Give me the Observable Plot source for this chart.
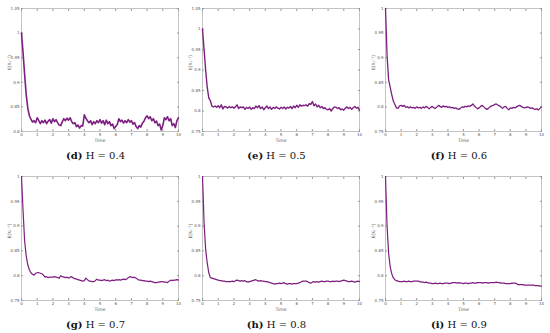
<!DOCTYPE html>
<html>
<head>
<meta charset="utf-8">
<script src="https://cdn.jsdelivr.net/npm/d3@7"></script>
<script src="https://cdn.jsdelivr.net/npm/@observablehq/plot@0.6"></script>
<style>
  html, body { margin: 0; padding: 0; background: #fff; }
  #root { position: relative; width: 550px; height: 333px; overflow: hidden; }
  .panel { position: absolute; }
  .cap { position: absolute; font-family: "DejaVu Serif", "Liberation Serif", serif; font-size: 10px; color: #111; white-space: nowrap; transform: translate(-50%, -50%); }
  .cap b { font-weight: bold; }
</style>
</head>
<body>
<div id="root"></div>
<script>
// ---- data ----
const time = [0,0.1,0.2,0.3,0.4,0.5,0.6,0.7,0.8,0.9,1,1.1,1.2,1.3,1.4,1.5,1.6,1.7,1.8,1.9,2,2.1,2.2,2.3,2.4,2.5,2.6,2.7,2.8,2.9,3,3.1,3.2,3.3,3.4,3.5,3.6,3.7,3.8,3.9,4,4.1,4.2,4.3,4.4,4.5,4.6,4.7,4.8,4.9,5,5.1,5.2,5.3,5.4,5.5,5.6,5.7,5.8,5.9,6,6.1,6.2,6.3,6.4,6.5,6.6,6.7,6.8,6.9,7,7.1,7.2,7.3,7.4,7.5,7.6,7.7,7.8,7.9,8,8.1,8.2,8.3,8.4,8.5,8.6,8.7,8.8,8.9,9,9.1,9.2,9.3,9.4,9.5,9.6,9.7,9.8,9.9,10];

const seriesH04 = [1.000,0.960,0.915,0.875,0.848,0.832,0.825,0.819,0.822,0.818,
  0.828,0.822,0.816,0.822,0.818,0.823,0.816,0.821,0.824,0.817,
  0.826,0.820,0.824,0.818,0.813,0.812,0.820,0.826,0.822,0.827,
  0.823,0.828,0.820,0.816,0.818,0.810,0.813,0.807,0.812,0.811,
  0.834,0.827,0.822,0.818,0.822,0.814,0.820,0.816,0.822,0.818,
  0.824,0.817,0.822,0.814,0.823,0.816,0.820,0.812,0.815,0.806,
  0.810,0.814,0.826,0.820,0.823,0.817,0.822,0.818,0.824,0.819,
  0.822,0.815,0.818,0.810,0.806,0.812,0.809,0.817,0.821,0.828,
  0.832,0.826,0.830,0.822,0.826,0.818,0.821,0.812,0.815,0.803,
  0.812,0.828,0.824,0.830,0.822,0.826,0.812,0.816,0.808,0.822,
  0.828];

const seriesH05 = [1.000,0.950,0.900,0.858,0.832,0.825,0.812,0.810,0.812,0.809,
  0.813,0.808,0.815,0.805,0.811,0.810,0.807,0.811,0.808,0.810,
  0.807,0.810,0.815,0.806,0.810,0.808,0.810,0.804,0.809,0.806,
  0.810,0.804,0.808,0.806,0.812,0.808,0.813,0.806,0.810,0.803,
  0.808,0.812,0.806,0.810,0.804,0.809,0.806,0.810,0.807,0.805,
  0.809,0.806,0.810,0.805,0.809,0.807,0.811,0.806,0.812,0.808,
  0.814,0.809,0.815,0.812,0.814,0.813,0.815,0.812,0.818,0.816,
  0.823,0.813,0.817,0.810,0.814,0.808,0.811,0.806,0.808,0.804,
  0.803,0.806,0.800,0.806,0.810,0.809,0.806,0.808,0.803,0.805,
  0.802,0.807,0.810,0.806,0.809,0.804,0.808,0.811,0.807,0.809,
  0.802];

const seriesH06 = [1.000,0.905,0.855,0.840,0.825,0.812,0.805,0.798,0.797,0.802,
  0.803,0.801,0.803,0.799,0.800,0.798,0.800,0.798,0.799,0.797,
  0.800,0.798,0.799,0.797,0.800,0.798,0.801,0.799,0.796,0.799,
  0.801,0.798,0.797,0.800,0.803,0.801,0.799,0.802,0.800,0.801,
  0.799,0.800,0.798,0.799,0.797,0.798,0.796,0.795,0.797,0.800,
  0.799,0.801,0.800,0.802,0.801,0.803,0.806,0.802,0.799,0.796,
  0.798,0.801,0.803,0.800,0.797,0.795,0.797,0.800,0.802,0.803,
  0.805,0.806,0.804,0.802,0.800,0.797,0.800,0.801,0.797,0.794,
  0.798,0.797,0.799,0.798,0.800,0.802,0.803,0.801,0.799,0.798,
  0.799,0.800,0.799,0.797,0.798,0.796,0.795,0.796,0.794,0.797,
  0.800];

const seriesH07 = [1.000,0.930,0.870,0.840,0.822,0.812,0.806,0.803,0.801,0.805,
  0.806,0.806,0.805,0.804,0.801,0.797,0.798,0.796,0.797,0.797,
  0.797,0.798,0.797,0.796,0.795,0.800,0.798,0.797,0.796,0.797,
  0.795,0.797,0.798,0.795,0.794,0.793,0.792,0.791,0.790,0.789,
  0.790,0.795,0.792,0.789,0.789,0.788,0.788,0.790,0.793,0.791,
  0.791,0.790,0.791,0.792,0.790,0.791,0.789,0.790,0.791,0.790,
  0.792,0.791,0.792,0.791,0.792,0.793,0.792,0.793,0.796,0.798,
  0.797,0.796,0.797,0.795,0.793,0.791,0.791,0.790,0.790,0.789,
  0.789,0.788,0.789,0.788,0.787,0.786,0.786,0.787,0.787,0.788,
  0.788,0.787,0.787,0.786,0.789,0.791,0.790,0.791,0.791,0.792,
  0.791];

const seriesH08 = [1.000,0.907,0.853,0.826,0.806,0.796,0.795,0.794,0.793,0.792,
  0.791,0.790,0.790,0.789,0.789,0.788,0.788,0.788,0.788,0.789,
  0.788,0.790,0.791,0.790,0.789,0.790,0.789,0.790,0.788,0.787,
  0.788,0.789,0.790,0.791,0.792,0.790,0.789,0.790,0.789,0.789,
  0.788,0.788,0.787,0.786,0.785,0.784,0.783,0.784,0.784,0.785,
  0.784,0.785,0.786,0.784,0.783,0.784,0.784,0.783,0.784,0.784,
  0.784,0.785,0.786,0.788,0.789,0.789,0.789,0.788,0.786,0.785,
  0.787,0.788,0.787,0.788,0.787,0.788,0.789,0.788,0.788,0.789,
  0.789,0.788,0.788,0.789,0.788,0.789,0.789,0.788,0.789,0.790,
  0.791,0.790,0.789,0.788,0.788,0.789,0.788,0.787,0.788,0.789,
  0.788];

const seriesH09 = [1.000,0.900,0.845,0.818,0.804,0.796,0.792,0.790,0.789,0.788,
  0.788,0.788,0.789,0.788,0.788,0.789,0.788,0.788,0.789,0.789,
  0.789,0.789,0.788,0.787,0.787,0.786,0.787,0.786,0.785,0.785,
  0.784,0.784,0.785,0.784,0.784,0.785,0.784,0.784,0.785,0.785,
  0.785,0.784,0.785,0.786,0.786,0.786,0.785,0.786,0.785,0.785,
  0.784,0.785,0.785,0.784,0.785,0.785,0.786,0.785,0.785,0.786,
  0.786,0.786,0.785,0.786,0.786,0.786,0.785,0.786,0.786,0.786,
  0.786,0.787,0.786,0.786,0.785,0.785,0.785,0.784,0.784,0.784,
  0.784,0.785,0.785,0.785,0.784,0.782,0.782,0.782,0.782,0.781,
  0.781,0.781,0.781,0.781,0.781,0.781,0.780,0.780,0.780,0.779,
  0.779];

const xTicks = [0,1,2,3,4,5,6,7,8,9,10];
const yTicksD = [0.8,0.85,0.9,0.95,1,1.05];
const yTicksE = [0.75,0.8,0.85,0.9,0.95,1,1.05];
const yTicksRest = [0.75,0.8,0.85,0.9,0.95,1];

const panelLetters = ["d","e","f","g","h","i"];
const hurstValues = ["0.4","0.5","0.6","0.7","0.8","0.9"];
const xLabel = "Time";
const yLabel = "E(X\u209C\u207B\u00B9)";

// ---- layout (not data) ----
const panels = [
  {series: seriesH04, domain: [0.8,1.05], ticks: yTicksD, left: 0,   top: 0,   mL: 21, mR: 7,  mT: 8,  mB: 17, capY: 155, sw: 1.6},
  {series: seriesH05, domain: [0.75,1.05], ticks: yTicksE, left: 185, top: 0,   mL: 17, mR: 11, mT: 8,  mB: 17, capY: 155, sw: 1.4},
  {series: seriesH06, domain: [0.75,1],   ticks: yTicksRest, left: 365, top: 0,   mL: 20, mR: 9,  mT: 8,  mB: 17, capY: 155, sw: 1.3},
  {series: seriesH07, domain: [0.75,1],   ticks: yTicksRest, left: 0,   top: 165, mL: 21, mR: 7,  mT: 11, mB: 13, capY: 324, sw: 1.2},
  {series: seriesH08, domain: [0.75,1],   ticks: yTicksRest, left: 185, top: 165, mL: 17, mR: 11, mT: 11, mB: 13, capY: 324, sw: 1.2},
  {series: seriesH09, domain: [0.75,1],   ticks: yTicksRest, left: 365, top: 165, mL: 20, mR: 9,  mT: 11, mB: 13, capY: 324, sw: 1.2}
];

const root = document.getElementById("root");
const W = 185, H = 148;
const lineColor = "#7d1f80";
const axisColor = "#555";
const fs = "4px";

panels.forEach((p, i) => {
  const data = time.map((t, k) => ({t, v: p.series[k]}));
  const chart = Plot.plot({
    width: W,
    height: H,
    marginLeft: p.mL,
    marginRight: p.mR,
    marginTop: p.mT,
    marginBottom: p.mB,
    style: {fontSize: fs, fontFamily: "DejaVu Sans, sans-serif", color: axisColor, background: "white", overflow: "visible"},
    x: {domain: [0, 10], ticks: xTicks},
    y: {domain: p.domain, ticks: p.ticks},
    marks: [
      Plot.frame({stroke: "#b5b5b5", strokeWidth: 0.8}),
      Plot.axisX(xTicks, {anchor: "bottom", tickSize: 0, tickPadding: 2, label: null, tickFormat: d => String(d), fill: axisColor}),
      Plot.axisX(xTicks, {anchor: "bottom", tickSize: -2, tickFormat: () => "", label: null, stroke: "#999"}),
      Plot.axisX(xTicks, {anchor: "top", tickSize: -2, tickFormat: () => "", label: null, stroke: "#999"}),
      Plot.axisY(p.ticks, {anchor: "left", tickSize: 0, tickPadding: 2, label: null, tickFormat: d => String(d), fill: axisColor}),
      Plot.axisY(p.ticks, {anchor: "left", tickSize: -2, tickFormat: () => "", label: null, stroke: "#999"}),
      Plot.axisY(p.ticks, {anchor: "right", tickSize: -2, tickFormat: () => "", label: null, stroke: "#999"}),
      Plot.text([xLabel], {frameAnchor: "bottom", dy: 10.5, fontSize: 4.5, fill: axisColor}),
      Plot.text([yLabel], {frameAnchor: "left", rotate: -90, dx: -12, fontSize: 4.5, fill: axisColor}),
      Plot.line(data, {x: "t", y: "v", stroke: lineColor, strokeWidth: p.sw, strokeLinejoin: "round"})
    ]
  });
  const wrap = document.createElement("div");
  wrap.className = "panel";
  wrap.style.left = p.left + "px";
  wrap.style.top = p.top + "px";
  wrap.appendChild(chart);
  root.appendChild(wrap);

  const cap = document.createElement("div");
  cap.className = "cap";
  const cx = p.left + p.mL + (W - p.mL - p.mR) / 2 - 4;
  cap.style.left = cx + "px";
  cap.style.top = p.capY + "px";
  cap.innerHTML = "<b>(" + panelLetters[i] + ")</b> H = " + hurstValues[i];
  root.appendChild(cap);
});
</script>
</body>
</html>
